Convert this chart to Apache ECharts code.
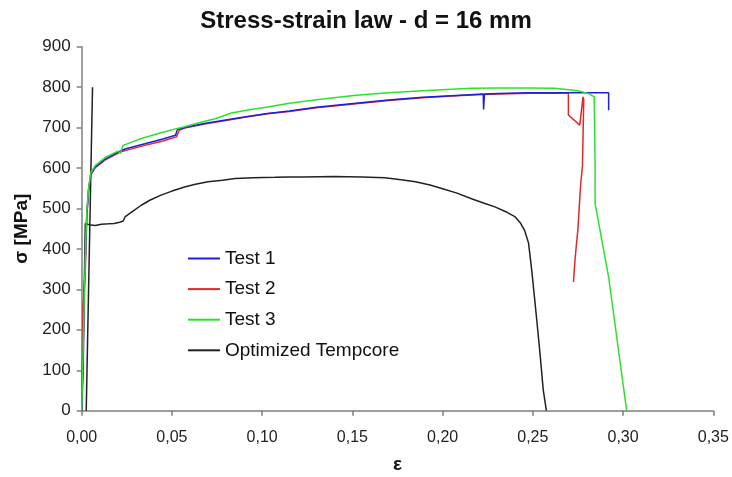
<!DOCTYPE html>
<html>
<head>
<meta charset="utf-8">
<script src="https://cdn.jsdelivr.net/npm/echarts@6/dist/echarts.min.js"></script>
<style>
  html, body { margin: 0; padding: 0; background: #fff; }
  #chart { width: 732px; height: 477px; }
</style>
</head>
<body>
<div id="chart"></div>
<script>
// strain / stress pairs
const test1 = [[0,0],[0.0008,100],[0.0015,300],[0.0028,480],[0.0038,545],[0.005,585],[0.0075,603],[0.013,622],[0.021,641],[0.024,647],[0.035,660],[0.045,672],[0.052,681],[0.053,695],[0.057,700],[0.068,710],[0.079,718],[0.091,727],[0.103,735],[0.115,741],[0.130,750],[0.152,760],[0.170,768],[0.189,775],[0.205,779],[0.2225,783],[0.2227,745],[0.2232,783],[0.231,784],[0.248,786],[0.270,786],[0.292,786],[0.292,743]];
const test2 = [[0,0],[0.0007,256],[0.002,347],[0.0028,480],[0.0038,545],[0.005,583],[0.0075,601],[0.013,620],[0.021,639],[0.024,643],[0.035,656],[0.045,667],[0.0525,677],[0.054,693],[0.057,699],[0.068,709],[0.079,717],[0.091,726],[0.103,734],[0.115,740],[0.130,749],[0.152,759],[0.170,767],[0.189,774],[0.205,778],[0.222,782],[0.231,783],[0.248,785],[0.2697,785],[0.2697,731],[0.276,706],[0.2778,776],[0.2782,770],[0.2775,605],[0.2768,603],[0.2765,560],[0.275,450],[0.2735,380],[0.2725,318]];
const test3 = [[0,0],[0.001,200],[0.002,380],[0.0028,490],[0.0038,550],[0.005,588],[0.0075,606],[0.013,626],[0.020,642],[0.0215,636],[0.022,645],[0.023,656],[0.033,673],[0.043,686],[0.053,698],[0.057,702],[0.065,712],[0.074,722],[0.083,736],[0.093,744],[0.103,751],[0.115,760],[0.130,769],[0.152,780],[0.170,786],[0.189,791],[0.205,795],[0.216,797],[0.231,798],[0.248,798],[0.262,797],[0.275,791],[0.281,784],[0.284,776],[0.2845,611],[0.2845,512],[0.292,330],[0.302,0]];
const tempcore = [[0,0],[0.001,200],[0.002,463],[0.004,460],[0.0075,458],[0.011,461],[0.0148,462],[0.018,463],[0.021,466],[0.023,469],[0.024,479],[0.028,492],[0.033,508],[0.038,521],[0.044,533],[0.050,543],[0.057,553],[0.063,560],[0.070,566],[0.078,570],[0.085,574],[0.095,576],[0.107,577],[0.115,578],[0.123,578],[0.140,579],[0.155,578],[0.168,576],[0.177,571],[0.185,566],[0.193,558],[0.200,549],[0.208,538],[0.216,524],[0.223,513],[0.229,504],[0.235,492],[0.240,480],[0.243,465],[0.2455,445],[0.2476,415],[0.2494,347],[0.2522,223],[0.254,140],[0.2558,50],[0.2575,0]];
const elasticLine = [[0.0025,0],[0.006,800]];

const seriesNames = ["Test 1", "Test 2", "Test 3", "Optimized Tempcore"];
const seriesColors = ["#1f1fd8", "#e02828", "#2ee02e", "#222222"];
const xTicks = ["0,00", "0,05", "0,10", "0,15", "0,20", "0,25", "0,30", "0,35"];

const font = "Liberation Sans, Arial, sans-serif";
const chart = echarts.init(document.getElementById("chart"));

function lineSeries(name, data, color) {
  return {
    name: name,
    type: "line",
    data: data,
    showSymbol: false,
    symbol: "none",
    color: color,
    lineStyle: { width: 1.5, color: color },
  };
}

const option = {
  animation: false,
  backgroundColor: "#fff",
  title: {
    text: "Stress-strain law - d = 16 mm",
    left: "center",
    top: 4,
    textStyle: { fontFamily: font, fontSize: 24, fontWeight: "bold", color: "#111" },
  },
  legend: {
    data: seriesNames,
    orient: "vertical",
    left: 188,
    top: 249,
    padding: 0,
    itemGap: 11.6,
    itemWidth: 32,
    itemHeight: 2,
    icon: "rect",
    textStyle: { fontFamily: font, fontSize: 19, color: "#111" },
  },
  grid: { left: 81.7, right: 18.7, top: 46.7, bottom: 66.3, outerBoundsMode: "none", containLabel: false },
  xAxis: {
    type: "value",
    min: 0,
    max: 0.35,
    interval: 0.05,
    name: "ε",
    nameLocation: "middle",
    nameGap: 45,
    nameTextStyle: { fontFamily: font, fontSize: 19, fontWeight: "bold", color: "#111" },
    splitLine: { show: false },
    axisLine: { lineStyle: { color: "#7f7f7f", width: 1.5 } },
    axisTick: { length: 5, lineStyle: { color: "#7f7f7f", width: 1.5 } },
    axisLabel: {
      margin: 19,
      fontFamily: font,
      fontSize: 16,
      color: "#222",
      formatter: (v) => xTicks[Math.round(v / 0.05)],
    },
  },
  yAxis: {
    type: "value",
    min: 0,
    max: 900,
    interval: 100,
    name: "σ [MPa]",
    nameLocation: "middle",
    nameGap: 46,
    nameTextStyle: { fontFamily: font, fontSize: 19, fontWeight: "bold", color: "#111" },
    splitLine: { show: false },
    axisLine: { show: true, lineStyle: { color: "#7f7f7f", width: 1.5 } },
    axisTick: { show: true, length: 5, lineStyle: { color: "#7f7f7f", width: 1.5 } },
    axisLabel: { margin: 11, fontFamily: font, fontSize: 17, color: "#222" },
  },
  series: [
    lineSeries(seriesNames[3], elasticLine, seriesColors[3]),
    lineSeries(seriesNames[3], tempcore, seriesColors[3]),
    lineSeries(seriesNames[1], test2, seriesColors[1]),
    lineSeries(seriesNames[0], test1, seriesColors[0]),
    lineSeries(seriesNames[2], test3, seriesColors[2]),
  ],
};
chart.setOption(option);
</script>
</body>
</html>
